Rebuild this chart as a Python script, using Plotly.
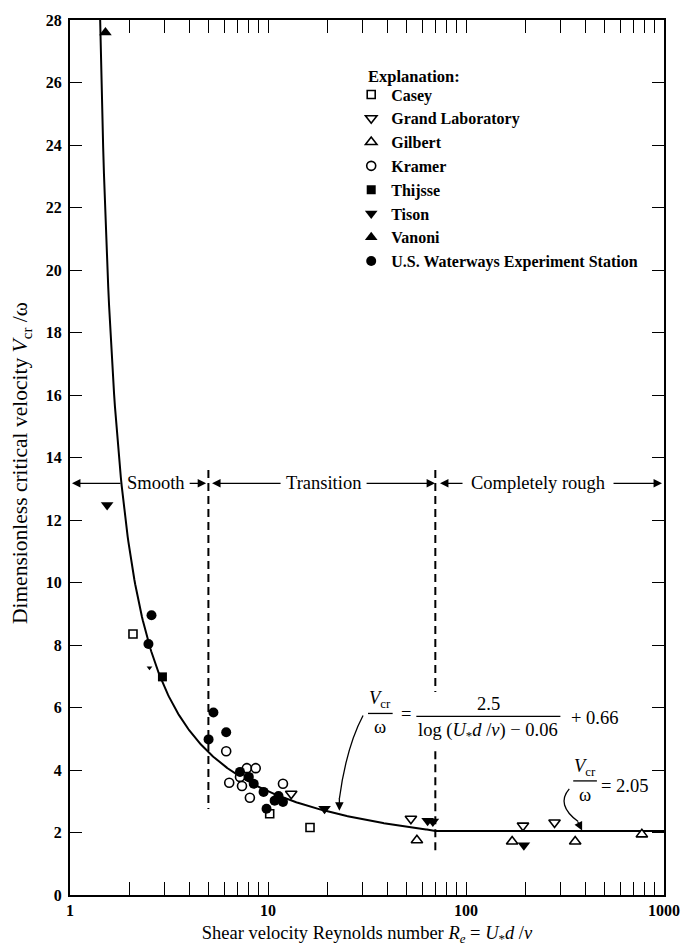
import numpy as np
import plotly.graph_objects as go

# ---- observed data (shear velocity Reynolds number, dimensionless critical velocity) ----
casey_x = [2.08, 10.2, 16.3]
casey_y = [8.35, 2.6, 2.16]

grand_x = [13.1, 52.7, 194, 280]
grand_y = [3.24, 2.44, 2.22, 2.32]

gilbert_x = [56.5, 171, 356, 773]
gilbert_y = [1.75, 1.71, 1.71, 1.94]

kramer_x = [6.15, 7.82, 8.67, 7.22, 6.37, 7.39, 8.10, 11.9]
kramer_y = [4.60, 4.06, 4.06, 3.78, 3.59, 3.49, 3.11, 3.56]

thijsse_x = [2.93]
thijsse_y = [6.98]

tison_x = [1.54, 19.3, 64, 68, 196]
tison_y = [12.48, 2.76, 2.38, 2.35, 1.59]
tison_small_x = [2.52]
tison_small_y = [7.27]

vanoni_x = [1.51]
vanoni_y = [27.6]

wes_x = [2.58, 2.49, 5.30, 6.15, 5.01, 7.22, 8.0, 8.47, 9.5, 11.3, 11.9, 10.8, 9.83]
wes_y = [8.95, 8.03, 5.84, 5.21, 4.98, 3.94, 3.78, 3.56, 3.30, 3.17, 2.98, 3.02, 2.76]

# ---- fitted relation and flow regime limits ----
coef_a, coef_b, coef_c = 2.5, 0.06, 0.66
rough_value = 2.05
smooth_limit = 5
rough_limit = 70

x_tick_majors = [1, 10, 100, 1000]
y_ticks = list(range(0, 29, 2))

FONT = "Liberation Serif, Times New Roman, serif"

# plot-area pixel frame (page is 692 x 952)
PL, PR, PT, PB = 70, 672, 15, 897


def px(x):
    return (x - PL) / (PR - PL)


def py(y):
    return (PB - y) / (PB - PT)


fig = go.Figure()

# curve: transition relation up to the rough limit, constant beyond
xc1 = np.logspace(np.log10(1.40), np.log10(rough_limit), 400)
yc1 = coef_a / (np.log10(xc1) - coef_b) + coef_c
xc2 = np.array([rough_limit, 1000])
yc2 = np.array([rough_value, rough_value])
fig.add_trace(go.Scatter(
    x=np.concatenate([xc1, xc2]), y=np.concatenate([yc1, yc2]),
    mode="lines", line=dict(color="black", width=2), showlegend=False,
    hoverinfo="skip"))

# regime boundaries (dashed)
fig.add_trace(go.Scatter(
    x=[smooth_limit, smooth_limit], y=[13.6, 2.75],
    mode="lines", line=dict(color="black", width=2, dash="8px,5px"),
    showlegend=False, hoverinfo="skip"))
fig.add_trace(go.Scatter(
    x=[rough_limit, rough_limit, None, rough_limit, rough_limit],
    y=[13.6, 6.5, None, 4.6, 1.4],
    mode="lines", line=dict(color="black", width=2, dash="8px,5px"),
    showlegend=False, hoverinfo="skip"))

open_line = dict(color="black", width=1.6)
series = [
    ("Casey", casey_x, casey_y, "square", "white", 8),
    ("Grand Laboratory", grand_x, grand_y, "triangle-down", "white", 10),
    ("Gilbert", gilbert_x, gilbert_y, "triangle-up", "white", 10),
    ("Kramer", kramer_x, kramer_y, "circle", "white", 9),
    ("Thijsse", thijsse_x, thijsse_y, "square", "black", 9),
    ("Tison", tison_x, tison_y, "triangle-down", "black", 11),
    ("Vanoni", vanoni_x, vanoni_y, "triangle-up", "black", 11),
    ("U.S. Waterways Experiment Station", wes_x, wes_y, "circle", "black", 10),
]
for name, xs, ys, sym, fill, size in series:
    fig.add_trace(go.Scatter(
        x=xs, y=ys, mode="markers", name=name,
        marker=dict(symbol=sym, color=fill, size=size,
                    line=open_line if fill == "white" else dict(width=0))))

fig.add_trace(go.Scatter(
    x=tison_small_x, y=tison_small_y, mode="markers", showlegend=False,
    marker=dict(symbol="triangle-down", color="black", size=5)))

# ---- axes ----
x_tickvals = []
for dec in [1, 10, 100]:
    x_tickvals += [dec * k for k in range(1, 10)]
x_tickvals.append(1000)
x_ticktext = [f"<b>{v}</b>" if v in x_tick_majors else "" for v in x_tickvals]
y_ticktext = [f"<b>{v}</b>" for v in y_ticks]

axis_font = dict(family=FONT, size=16, color="black")
fig.update_xaxes(
    type="log", range=[0, 3], tickvals=x_tickvals, ticktext=x_ticktext,
    ticks="inside", ticklen=13, tickwidth=1.3, tickcolor="black",
    showline=True, linewidth=2, linecolor="black", mirror="ticks",
    showgrid=False, zeroline=False, tickfont=axis_font,
    title=dict(text="Shear velocity Reynolds number <i>R<sub>e</sub></i> = "
                    "<i>U</i><sub>*</sub><i>d</i> /<i>ν</i>",
               font=dict(family=FONT, size=18.5, color="black"), standoff=8))
fig.update_yaxes(
    range=[0, 28], tickvals=y_ticks, ticktext=y_ticktext,
    ticks="inside", ticklen=12, tickwidth=1.3, tickcolor="black",
    showline=True, linewidth=2, linecolor="black", mirror="ticks",
    showgrid=False, zeroline=False, tickfont=axis_font, ticklabelstandoff=3)

annotations = []
shapes = []


def text(x, y, s, anchor="center", size=18.5, angle=0):
    annotations.append(dict(
        x=px(x), y=py(y), xref="paper", yref="paper", text=s, showarrow=False,
        xanchor=anchor, yanchor="middle", textangle=angle,
        font=dict(family=FONT, size=size, color="black")))


def arrow(x_head, y_head, dx, dy):
    annotations.append(dict(
        x=px(x_head), y=py(y_head), xref="paper", yref="paper", text="",
        showarrow=True, ax=dx, ay=dy, arrowhead=2, arrowsize=1.3,
        arrowwidth=1.3, arrowcolor="black", standoff=0))


def bar(x0, x1, y):
    shapes.append(dict(type="line", xref="paper", yref="paper",
                       x0=px(x0), x1=px(x1), y0=py(y), y1=py(y),
                       line=dict(color="black", width=1.3)))


# y axis title
text(21, 462, "Dimensionless critical velocity <i>V</i><sub>cr</sub> /ω",
     size=21.5, angle=-90)

# regime labels and arrows
row = 482
text(157, row, "Smooth")
text(327, row, "Transition")
text(544, row, "Completely rough")
arrow(72, row, 50, 0)
arrow(208, row, -18, 0)
arrow(214, row, 70, 0)
arrow(440, row, -70, 0)
arrow(445, row, 24, 0)
arrow(670, row, -50, 0)

# transition relation label
text(384, 700, "<i>V</i><sub>cr</sub>")
bar(372, 397, 714)
text(384, 728, "ω")
text(411, 715, "=")
text(494, 704, "2.5")
bar(421, 567, 717)
annotations.append(dict(
    x=px(494), y=py(732), xref="paper", yref="paper",
    text="log (<i>U</i><sub>*</sub><i>d</i> /<i>ν</i>) − 0.06",
    showarrow=False, xanchor="center", yanchor="middle", bgcolor="white",
    font=dict(family=FONT, size=18.5, color="black")))
text(602, 719, "+ 0.66")
shapes.append(dict(type="path", xref="paper", yref="paper",
                   path=f"M {px(367)},{py(716)} Q {px(350)},{py(748)} {px(343)},{py(800)}",
                   line=dict(color="black", width=1.3)))
arrow(343, 812, 0, -14)

# completely rough label
text(592, 768, "<i>V</i><sub>cr</sub>")
bar(580, 604, 782)
text(592, 796, "ω")
text(606, 787, "= 2.05", anchor="left")
shapes.append(dict(type="path", xref="paper", yref="paper",
                   path=f"M {px(576)},{py(790)} Q {px(562)},{py(806)} {px(585)},{py(823)}",
                   line=dict(color="black", width=1.3)))
arrow(589, 832, -5, -10)

# legend heading
text(370, 72, "<b>Explanation:</b>", anchor="left", size=16.5)

fig.update_layout(
    width=692, height=952,
    margin=dict(l=PL, r=692 - PR, t=PT, b=952 - PB),
    paper_bgcolor="white", plot_bgcolor="white",
    font=dict(family=FONT, size=16, color="black"),
    annotations=annotations, shapes=shapes,
    legend=dict(x=px(355), y=py(73), xanchor="left", yanchor="top",
                bgcolor="rgba(0,0,0,0)",
                font=dict(family=FONT, size=16, color="black", weight="bold"),
                tracegroupgap=0),
)

fig.write_html("out.html")
